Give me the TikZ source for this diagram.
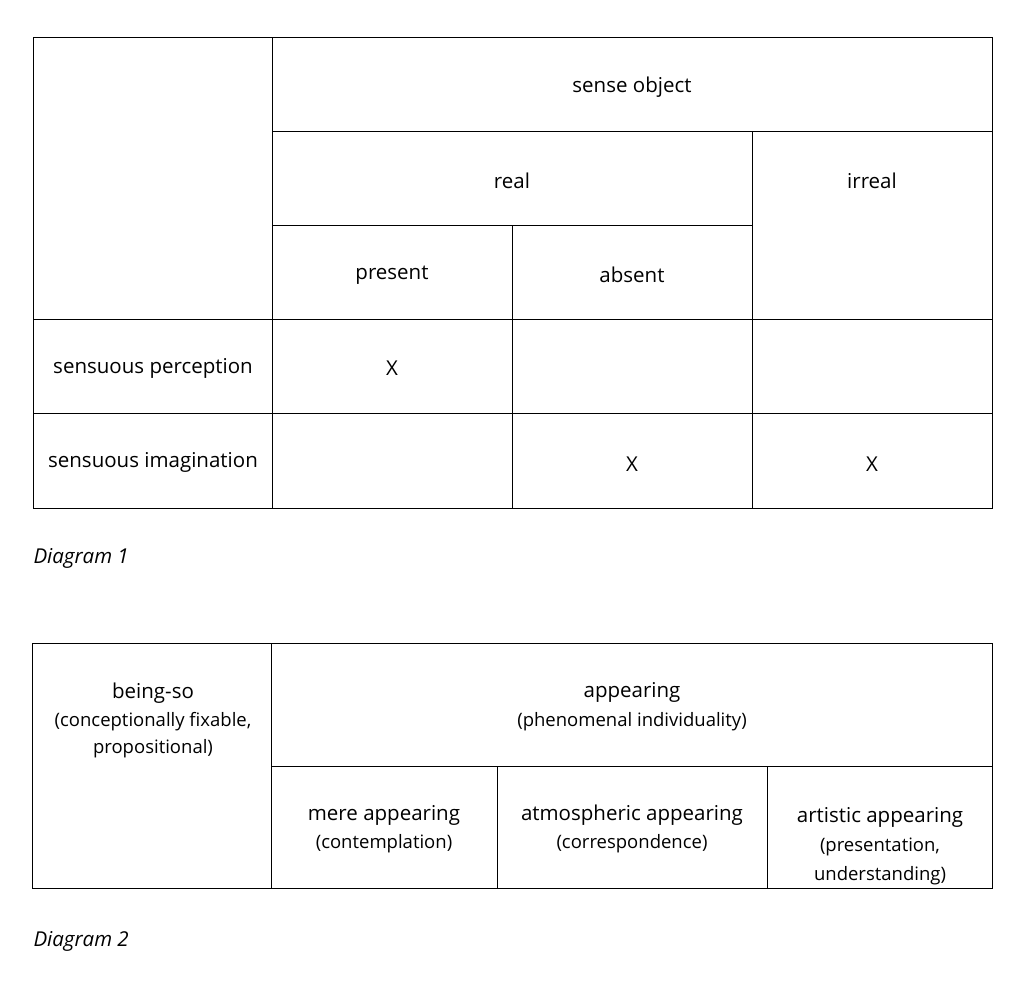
\documentclass[tikz,border=0pt]{standalone}
\usepackage{fontspec}
\setmainfont{Open Sans}
\begin{document}
\begin{tikzpicture}[x=1pt,y=-1pt,line width=1pt,
  lbl/.style={font=\fontsize{20.5}{25}\selectfont,align=center,inner sep=0pt},
  sml/.style={font=\fontsize{18.5}{23}\selectfont,align=center,inner sep=0pt},
  captxt/.style={font=\fontsize{20.5}{25}\selectfont\itshape,anchor=west,inner sep=0pt}]
\useasboundingbox (0,0) rectangle (1024,988);
% Diagram 1
\draw (33,37) rectangle (992,508);
\draw (272,37) -- (272,508);
\draw (272,131) -- (992,131);
\draw (272,225) -- (752,225);
\draw (33,319) -- (992,319);
\draw (33,413) -- (992,413);
\draw (752,131) -- (752,508);
\draw (512,225) -- (512,508);
\node[lbl] (so) at (632,87) {sense object};
\node[lbl] (re) at (512,181) {real};
\node[lbl] (ir) at (872,181) {irreal};
\node[lbl] (pr) at (392,275) {present};
\node[lbl] (ab) at (632,275) {absent};
\node[lbl] (sp) at (153,368) {sensuous perception};
\node[lbl] (x1) at (392,368) {X};
\node[lbl] (si) at (153,462) {sensuous imagination};
\node[lbl] (x2) at (632,464) {X};
\node[lbl] (x3) at (872,464) {X};
\node[captxt] (d1) at (33,558) {Diagram 1};
% Diagram 2
\draw (32,643) rectangle (992,888);
\draw (271,643) -- (271,888);
\draw (271,766) -- (992,766);
\draw (497,766) -- (497,888);
\draw (767,766) -- (767,888);
\node[lbl] (bs) at (153,693) {being-so};
\node[sml] (bs2) at (153,722) {(conceptionally fixable,};
\node[sml] (bs3) at (153,749) {propositional)};
\node[lbl] (ap) at (632,692) {appearing};
\node[sml] (pi) at (632,722) {(phenomenal individuality)};
\node[lbl] (ma) at (384,815) {mere appearing};
\node[sml] (co) at (384,844) {(contemplation)};
\node[lbl] (aa) at (632,815) {atmospheric appearing};
\node[sml] (cr) at (632,844) {(correspondence)};
\node[lbl] (ar) at (880,817) {artistic appearing};
\node[sml] (pu) at (880,847) {(presentation,};
\node[sml] (pu2) at (880,876) {understanding)};
\node[captxt] (d2) at (33,941) {Diagram 2};
\end{tikzpicture}
\end{document}
